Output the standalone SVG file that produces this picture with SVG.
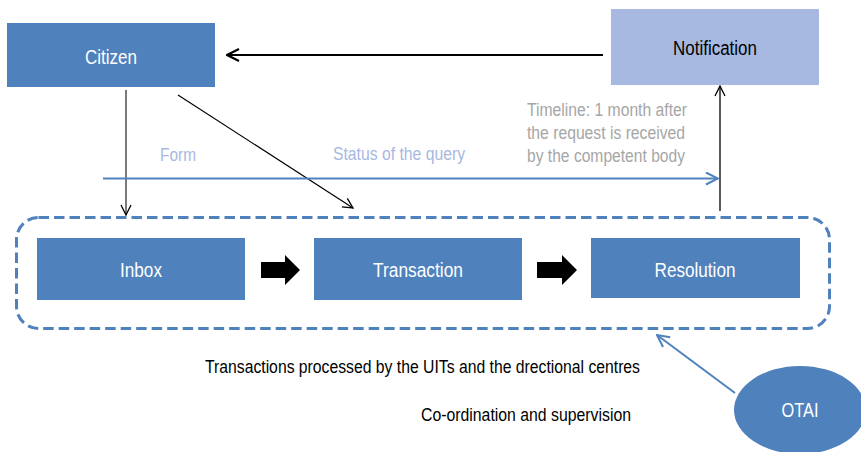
<svg xmlns="http://www.w3.org/2000/svg" width="861" height="452" viewBox="0 0 861 452">
  <style>
    text { font-family: "Liberation Sans", Arial, sans-serif; font-size: 20px; }
    .box { fill: #4F81BD; }
    .light { fill: #A7B8E1; }
    .white { fill: #ffffff; text-anchor: middle; dominant-baseline: central; }
    .dark { fill: #000000; font-size: 17.5px; }
    .grey { fill: #A6A6A6; font-size: 18px; }
    .faint { fill: #A7B8E1; font-size: 18px; }
  </style>
  <defs>
    <marker id="openBlack" viewBox="0 0 12 12" refX="11" refY="6" markerWidth="12" markerHeight="12" markerUnits="userSpaceOnUse" orient="auto">
      <path d="M1,1 L11,6 L1,11" fill="none" stroke="#000" stroke-width="1.3"/>
    </marker>
    <marker id="openBlackBig" viewBox="0 0 14 14" refX="13" refY="7" markerWidth="14" markerHeight="14" markerUnits="userSpaceOnUse" orient="auto">
      <path d="M1,1 L13,7 L1,13" fill="none" stroke="#000" stroke-width="2.2"/>
    </marker>
    <marker id="openBlue" viewBox="0 0 14 14" refX="13" refY="7" markerWidth="14" markerHeight="14" markerUnits="userSpaceOnUse" orient="auto">
      <path d="M1,1 L13,7 L1,13" fill="none" stroke="#4F81BD" stroke-width="2"/>
    </marker>
  </defs>

  <!-- connectors -->
  <g id="connectors">
    <line x1="603" y1="55" x2="227" y2="55" stroke="#000" stroke-width="2" marker-end="url(#openBlackBig)"/>
    <line x1="126" y1="90" x2="126" y2="215" stroke="#333" stroke-width="1.3" marker-end="url(#openBlack)"/>
    <line x1="178" y1="95" x2="353" y2="208" stroke="#000" stroke-width="1.2" marker-end="url(#openBlack)"/>
    <line x1="103" y1="178.5" x2="718" y2="178.5" stroke="#4F81BD" stroke-width="2.2" marker-end="url(#openBlue)"/>
    <line x1="720" y1="211" x2="720" y2="86" stroke="#000" stroke-width="1.3" marker-end="url(#openBlack)"/>
    <line x1="735" y1="393" x2="657" y2="335" stroke="#4F81BD" stroke-width="2" marker-end="url(#openBlue)"/>
    <!-- block arrows between steps -->
    <polygon points="261,262 285,262 285,255 300,270 285,285 285,278 261,278" fill="#000"/>
    <polygon points="537,262 562,262 562,255 577,270 562,285 562,278 537,278" fill="#000"/>
  </g>

  <!-- dashed processing frame -->
  <g id="frame">
    <rect x="16.5" y="217.5" width="813" height="111" rx="22" ry="22" fill="none" stroke="#4F81BD" stroke-width="3" stroke-dasharray="10.5,5"/>
  </g>

  <g id="citizen">
    <rect class="box" x="7" y="23" width="208" height="64"/>
    <text class="white" x="111" y="57" textLength="52" lengthAdjust="spacingAndGlyphs">Citizen</text>
  </g>

  <g id="notification">
    <rect class="light" x="611" y="9" width="208" height="76"/>
    <text x="715" y="48" text-anchor="middle" dominant-baseline="central" fill="#000" textLength="84" lengthAdjust="spacingAndGlyphs">Notification</text>
  </g>

  <g id="inbox">
    <rect class="box" x="37" y="238" width="208" height="62"/>
    <text class="white" x="141" y="270" textLength="42" lengthAdjust="spacingAndGlyphs">Inbox</text>
  </g>

  <g id="transaction">
    <rect class="box" x="314" y="238" width="208" height="62"/>
    <text class="white" x="418" y="270" textLength="90" lengthAdjust="spacingAndGlyphs">Transaction</text>
  </g>

  <g id="resolution">
    <rect class="box" x="591" y="238" width="209" height="60"/>
    <text class="white" x="695" y="270" textLength="81" lengthAdjust="spacingAndGlyphs">Resolution</text>
  </g>

  <g id="otai">
    <ellipse class="box" cx="800" cy="410" rx="66" ry="44"/>
    <text class="white" x="800" y="410" textLength="37" lengthAdjust="spacingAndGlyphs">OTAI</text>
  </g>

  <!-- labels -->
  <g id="labels">
    <text class="faint" x="160" y="161" textLength="36" lengthAdjust="spacingAndGlyphs">Form</text>
    <text class="faint" x="333" y="159.5" textLength="132" lengthAdjust="spacingAndGlyphs">Status of the query</text>
    <text class="grey" x="527" y="116" textLength="160" lengthAdjust="spacingAndGlyphs">Timeline: 1 month after</text>
    <text class="grey" x="527" y="139" textLength="158" lengthAdjust="spacingAndGlyphs">the request is received</text>
    <text class="grey" x="527" y="162" textLength="158" lengthAdjust="spacingAndGlyphs">by the competent body</text>
    <text class="dark" x="205" y="373" textLength="435" lengthAdjust="spacingAndGlyphs">Transactions processed by the UITs and the drectional centres</text>
    <text class="dark" x="421" y="421" textLength="210" lengthAdjust="spacingAndGlyphs">Co-ordination and supervision</text>
  </g>
</svg>
